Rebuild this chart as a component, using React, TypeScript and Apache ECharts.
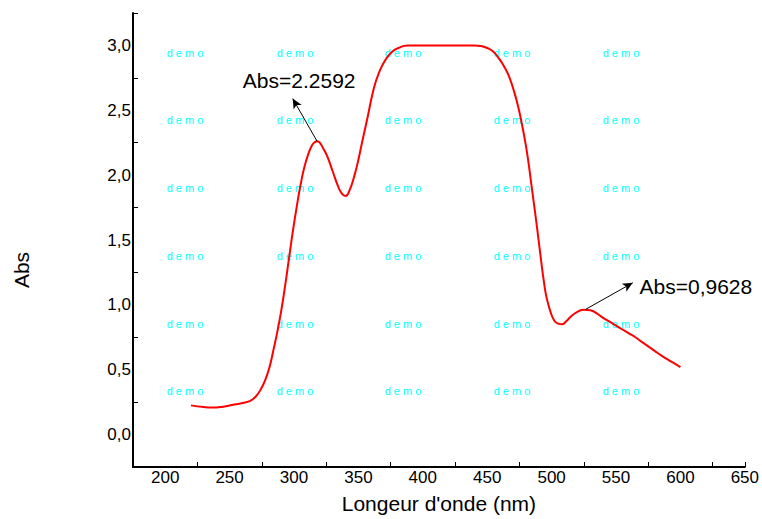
import React, { useEffect, useRef } from "react";
import * as echarts from "echarts";

const wavelengths = [
  220, 230, 237, 245, 252, 260, 266, 270, 274, 278, 281, 284, 287, 290, 293, 296, 299, 302, 305, 308,
  311, 314, 316, 318, 320, 323, 326, 330, 334, 337, 340, 343, 347, 350, 353, 357, 362, 366, 371, 376,
  381, 388, 395, 410, 425, 440, 445, 450, 455, 459, 463, 467, 471, 474, 477, 480, 482, 484, 486, 488,
  490, 492, 494, 496, 499, 502, 505, 508, 511, 515, 520, 525, 530, 535, 540, 545, 550, 555, 560, 565,
  570, 575, 580, 585, 590, 595, 600,
];
const absorbance = [
  0.225, 0.212, 0.208, 0.215, 0.228, 0.243, 0.26, 0.29, 0.345, 0.43, 0.52, 0.65, 0.79, 0.95, 1.14, 1.35, 1.56, 1.75, 1.92, 2.06,
  2.16, 2.23, 2.253, 2.262, 2.25, 2.2, 2.14, 2.03, 1.92, 1.86, 1.84, 1.88, 2.0, 2.12, 2.26, 2.44, 2.67, 2.79, 2.89, 2.95,
  2.98, 3.0, 3.0, 3.0, 3.0, 3.0, 2.995, 2.98, 2.95, 2.9, 2.84, 2.76, 2.64, 2.53, 2.39, 2.23, 2.1, 1.95, 1.8, 1.65,
  1.49, 1.33, 1.18, 1.06, 0.95, 0.88, 0.855, 0.85, 0.87, 0.91, 0.945, 0.963, 0.958, 0.935, 0.9, 0.87, 0.84, 0.81, 0.78, 0.75,
  0.715, 0.68, 0.645, 0.61, 0.58, 0.55, 0.52,
];

const annotationTexts = ["Abs=2.2592", "Abs=0,9628"];
const arrowStarts = [[318, 2.26], [526, 0.963]];
const arrowEnds = [[299, 2.59], [563, 1.17]];
const annotationPos = [[304, 2.73], [612, 1.14]];

const xTitle = "Longeur d'onde (nm)";
const yTitle = "Abs";
const watermark = "d e m o";

const FONT = "Liberation Sans, Arial, sans-serif";

export default function App() {
  const ref = useRef<HTMLDivElement>(null);
  useEffect(() => {
    if (!ref.current) return;
    const chart = echarts.init(ref.current, null, { renderer: "svg" });

    const wmCols = [185, 295, 403, 512, 621];
    const wmRows = [53, 120, 188, 256, 324, 391];
    const wm: any[] = [];
    wmRows.forEach((y) =>
      wmCols.forEach((x) =>
        wm.push({
          type: "text",
          x,
          y,
          z: 0,
          style: {
            text: watermark,
            fill: "#00ffff",
            font: `11px ${FONT}`,
            align: "center",
            verticalAlign: "middle",
          },
        })
      )
    );

    const data = wavelengths.map((w, i) => [w, absorbance[i]]);
    const isMultiple = (v: number, step: number) =>
      Math.abs(v / step - Math.round(v / step)) < 1e-6;

    chart.setOption({
      animation: false,
      grid: { left: 133, top: 13, right: 16, bottom: 49, containLabel: false },
      xAxis: [
        {
          type: "value",
          min: 175,
          max: 650,
          interval: 25,
          name: xTitle,
          nameLocation: "middle",
          nameGap: 26,
          nameTextStyle: { fontSize: 21, color: "#000", fontFamily: FONT },
          axisLine: { show: true, onZero: false, lineStyle: { color: "#000", width: 2 } },
          axisTick: { show: false },
          splitLine: { show: false },
          axisLabel: {
            fontSize: 17,
            color: "#000",
            fontFamily: FONT,
            margin: 2,
            formatter: (v: number) => (isMultiple(v, 50) ? String(v) : ""),
          },
        },
        {
          type: "value",
          position: "bottom",
          min: 175,
          max: 650,
          interval: 50,
          axisLine: { show: false, onZero: false },
          axisTick: { show: true, inside: true, length: 5, lineStyle: { color: "#000", width: 1 } },
          axisLabel: { show: false },
          splitLine: { show: false },
        },
      ],
      yAxis: [
        {
          type: "value",
          min: -0.25,
          max: 3.25,
          interval: 0.25,
          axisLine: { show: true, onZero: false, lineStyle: { color: "#000", width: 2 } },
          axisTick: { show: false },
          splitLine: { show: false },
          axisLabel: {
            fontSize: 17,
            color: "#000",
            fontFamily: FONT,
            margin: 2,
            formatter: (v: number) =>
              isMultiple(v, 0.5) && v >= 0 ? v.toFixed(1).replace(".", ",") : "",
          },
        },
        {
          type: "value",
          position: "left",
          min: -0.25,
          max: 3.25,
          interval: 0.5,
          axisLine: { show: false, onZero: false },
          axisTick: { show: true, inside: true, length: 5, lineStyle: { color: "#000", width: 1 } },
          axisLabel: { show: false },
          splitLine: { show: false },
        },
      ],
      graphic: [
        ...wm,
        {
          type: "text",
          x: 21,
          y: 270,
          rotation: Math.PI / 2,
          style: {
            text: yTitle,
            fill: "#000",
            font: `21px ${FONT}`,
            align: "center",
            verticalAlign: "middle",
          },
        },
      ],
      series: [
        {
          type: "line",
          xAxisIndex: 0,
          yAxisIndex: 0,
          data,
          smooth: 0.5,
          showSymbol: false,
          symbol: "none",
          lineStyle: { color: "#ff0000", width: 2 },
          z: 3,
          markLine: {
            silent: true,
            symbol: ["none", "arrow"],
            symbolSize: [7, 10],
            label: { show: false },
            lineStyle: { color: "#000", width: 1, type: "solid" },
            data: arrowStarts.map((s, i) => [
              { coord: s },
              { coord: arrowEnds[i] },
            ]),
          },
          markPoint: {
            silent: true,
            symbol: "rect",
            symbolSize: 1,
            itemStyle: { color: "rgba(0,0,0,0)" },
            label: {
              show: true,
              position: "inside",
              color: "#000",
              fontSize: 21,
              fontFamily: FONT,
              formatter: (p: any) => p.name,
            },
            data: annotationPos.map((c, i) => ({ coord: c, name: annotationTexts[i] })),
          },
        },
      ],
    });
    return () => chart.dispose();
  }, []);
  return (
    <div
      ref={ref}
      style={{ position: "fixed", left: 0, top: 0, width: 762, height: 519, background: "#fff" }}
    />
  );
}
